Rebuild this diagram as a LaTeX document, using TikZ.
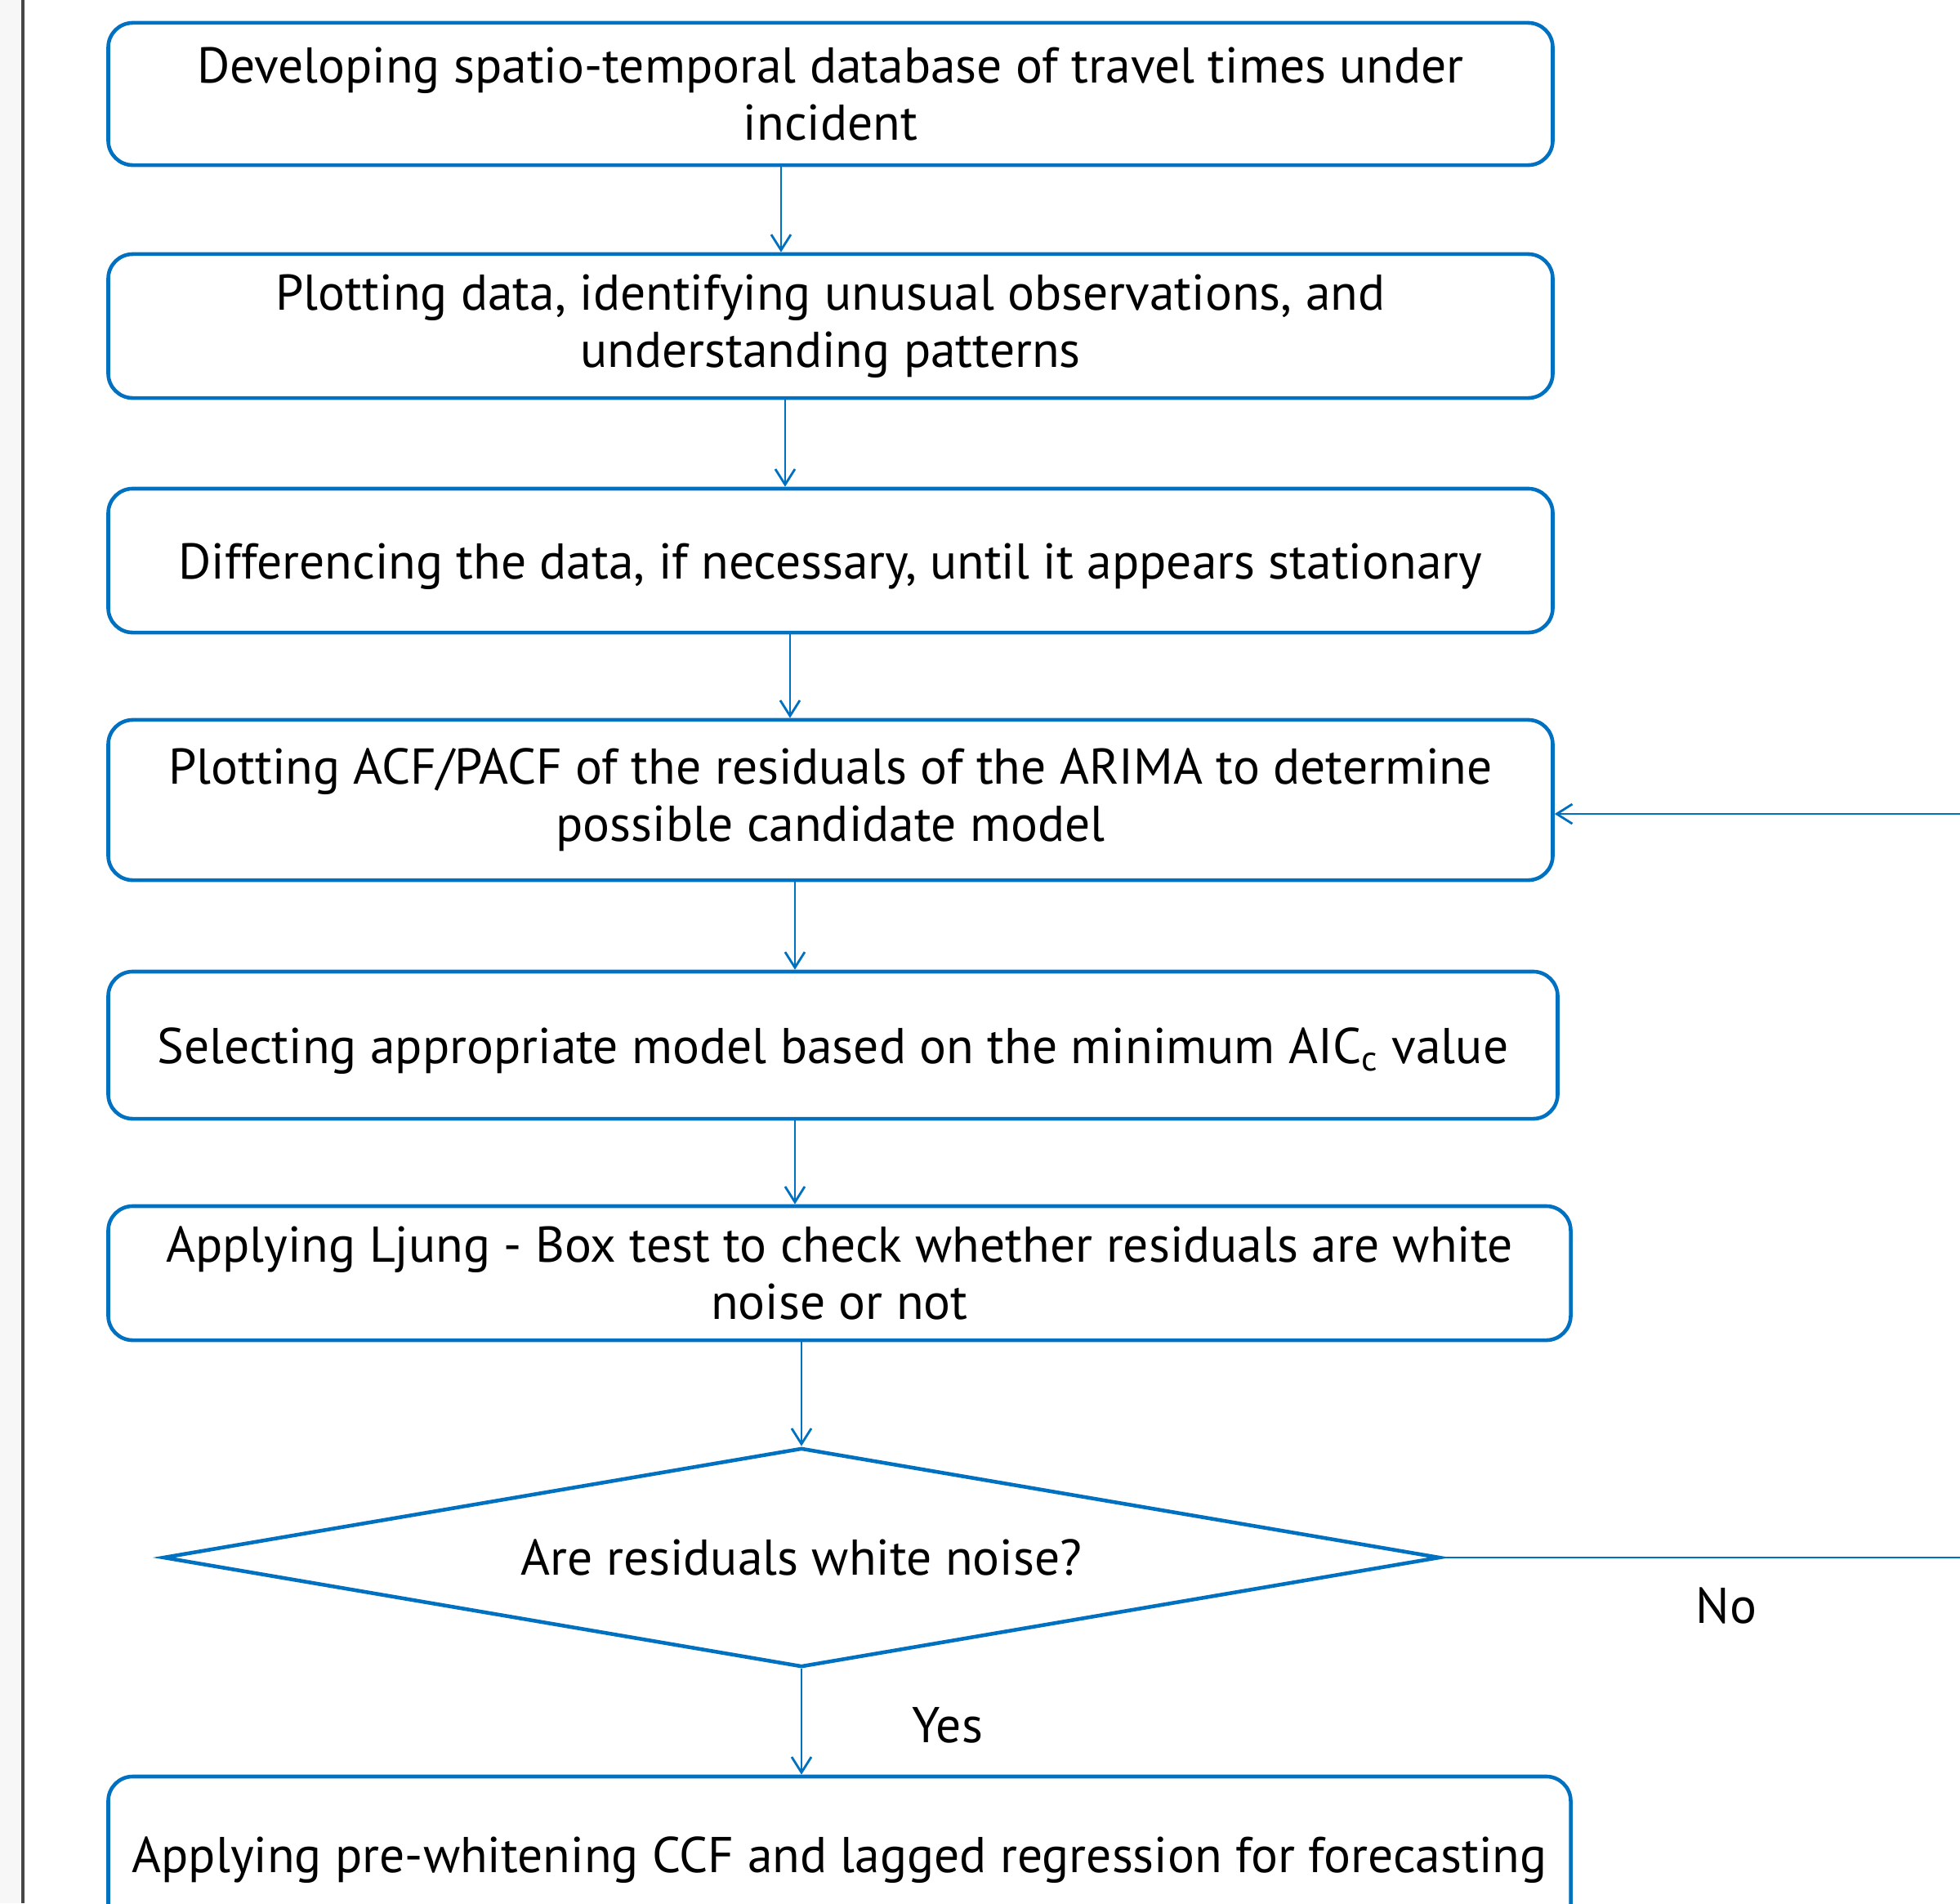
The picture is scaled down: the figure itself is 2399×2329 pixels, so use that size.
\documentclass[tikz,border=0pt]{standalone}
\usepackage{fontspec}
\setmainfont{PT Sans}
\usetikzlibrary{shapes.geometric,arrows.meta}
\definecolor{flowblue}{HTML}{0070C0}
\begin{document}
\begin{tikzpicture}[x=0.01cm,y=-0.01cm]
   \tikzset{stepbox/.style = {draw=flowblue,line width=1.3pt,rounded corners=0.3cm,align=center,
                              font=\fontsize{17.5}{20}\selectfont,inner sep=0pt},
            oneline/.style = {text height=17pt,text depth=4pt},
            decision/.style = {shape=diamond,draw=flowblue,line width=1.3pt,inner sep=0pt,aspect=5.8,
                               minimum width=15.62cm,minimum height=2.68cm,font=\fontsize{17.5}{20}\selectfont},
            arr/.style = {draw=flowblue,line width=0.8pt,-{Straight Barb[length=1.9mm,width=2.4mm]}},
            answer/.style = {font=\fontsize{17.5}{20}\selectfont}}
   \useasboundingbox (0,0) rectangle (2399,2329);
   \clip (0,0) rectangle (2399,2329);
   \fill[gray!6] (0,0) rectangle (28,2329);
   \draw[gray!55!black,line width=1.2pt] (28,0) -- (28,2329);

   \node[stepbox,minimum width=17.67cm,minimum height=1.74cm] (b1) at (1016.5,115)
      {Developing spatio-temporal database of travel times under\\incident};
   \node[stepbox,minimum width=17.67cm,minimum height=1.76cm] (b2) at (1016.5,399)
      {Plotting data, identifying unusual observations, and\\understanding patterns};
   \node[stepbox,oneline,minimum width=17.67cm,minimum height=1.76cm] (b3) at (1016.5,686)
      {Differencing the data, if necessary, until it appears stationary};
   \node[stepbox,minimum width=17.67cm,minimum height=1.96cm] (b4) at (1016.5,979)
      {Plotting ACF/PACF of the residuals of the ARIMA to determine\\possible candidate model};
   \node[stepbox,oneline,minimum width=17.73cm,minimum height=1.80cm] (b5) at (1019.5,1279)
      {Selecting appropriate model based on the minimum AIC\textsubscript{c} value};
   \node[stepbox,minimum width=17.89cm,minimum height=1.64cm] (b6) at (1027.5,1558)
      {Applying Ljung - Box test to check whether residuals are white\\noise or not};
   \node[decision] (q) at (981,1906) {Are residuals white noise?};
   \node[stepbox,oneline,minimum width=17.89cm,minimum height=1.90cm] (b7) at (1027.5,2269)
      {Applying pre-whitening CCF and lagged regression for forecasting};
   \node[answer] (no) at (2113,1965) {No};
   \node[answer] (yes) at (1160,2111) {Yes};
   \coordinate (turn) at (2460,1906);

   \draw[arr] ([xshift=-0.605cm]b1.south) -- ([xshift=-0.605cm]b1.south |- b2.north);
   \draw[arr] ([xshift=-0.555cm]b2.south) -- ([xshift=-0.555cm]b2.south |- b3.north);
   \draw[arr] ([xshift=-0.495cm]b3.south) -- ([xshift=-0.495cm]b3.south |- b4.north);
   \draw[arr] ([xshift=-0.435cm]b4.south) -- ([xshift=-0.435cm]b4.south |- b5.north);
   \draw[arr] ([xshift=-0.465cm]b5.south) -- ([xshift=-0.465cm]b5.south |- b6.north);
   \draw[arr] (b6.south -| q.north) -- (q.north);
   \draw[arr] (q.south) -- (b7.north -| q.south);
   \draw[arr] (q.east) -- (turn) |- ([yshift=-0.17cm]b4.east);
\end{tikzpicture}
\end{document}
